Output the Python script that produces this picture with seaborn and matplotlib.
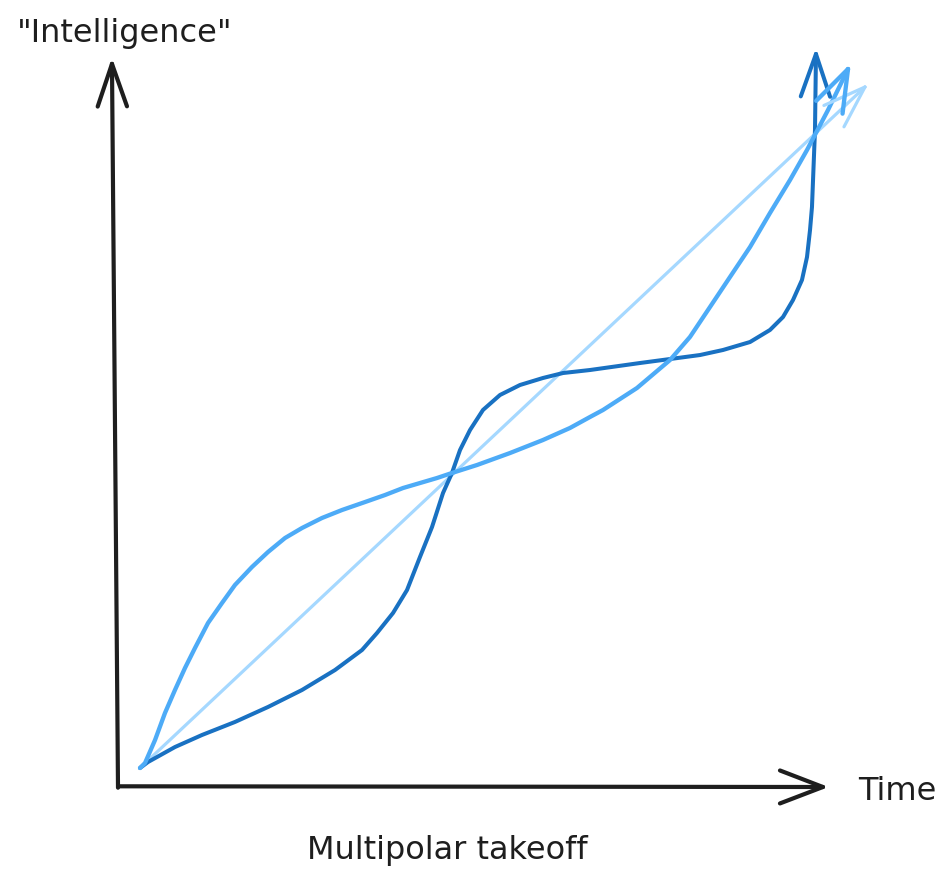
import numpy as np
import pandas as pd
import matplotlib
matplotlib.use("Agg")
import matplotlib.pyplot as plt
import seaborn as sns

# Three takeoff trajectories (time, "intelligence"), in axis units
linear_time = [0.314, 10.671]
linear_intel = [0.271, 10.000]

smooth_time = [0.314, 0.386, 0.529, 0.671, 0.814, 0.957, 1.100, 1.286, 1.486,
               1.671, 1.914, 2.143, 2.386, 2.629, 2.914, 3.200, 3.529, 3.814,
               4.071, 4.557, 4.771, 5.129, 5.600, 6.071, 6.457, 6.743, 6.929,
               7.414, 7.886, 8.171, 8.457, 8.743, 9.029, 9.314, 9.600, 9.843,
               10.143, 10.429]
smooth_intel = [0.271, 0.343, 0.671, 1.057, 1.386, 1.700, 1.986, 2.343, 2.629,
                2.886, 3.143, 3.357, 3.557, 3.700, 3.843, 3.957, 4.071, 4.171,
                4.271, 4.414, 4.486, 4.600, 4.771, 4.957, 5.129, 5.286, 5.386,
                5.700, 6.100, 6.429, 6.857, 7.286, 7.714, 8.200, 8.671, 9.100,
                9.671, 10.257]

steep_time = [0.314, 0.429, 0.814, 1.200, 1.671, 2.143, 2.629, 3.100, 3.486,
              3.700, 3.929, 4.129, 4.314, 4.486, 4.643, 4.771, 4.886, 5.029,
              5.214, 5.457, 5.743, 6.071, 6.357, 6.743, 7.457, 7.886, 8.314,
              8.643, 9.029, 9.314, 9.500, 9.643, 9.771, 9.843, 9.886, 9.914,
              9.929, 9.957, 9.971]
steep_intel = [0.271, 0.357, 0.571, 0.743, 0.929, 1.143, 1.386, 1.671, 1.957,
               2.200, 2.486, 2.814, 3.286, 3.714, 4.200, 4.486, 4.814, 5.100,
               5.386, 5.600, 5.743, 5.843, 5.914, 5.957, 6.057, 6.114, 6.171,
               6.243, 6.357, 6.529, 6.714, 6.957, 7.243, 7.571, 7.957, 8.286,
               8.671, 9.386, 10.471]

axis_time_max = 10.07
axis_intel_max = 10.33

x_label = "Time"
y_label = '"Intelligence"'
title = "Multipolar takeoff"

ink = "#1e1e1e"
light_blue = "#a5d8ff"
mid_blue = "#4dabf7"
dark_blue = "#1971c2"

sns.set_theme(style="white")
plt.rcParams["font.family"] = ["DejaVu Sans"]

fig = plt.figure(figsize=(9.46, 8.71), dpi=100)
ax = fig.add_axes([0, 0, 1, 1])
ax.set_xlim(-118 / 70, 828 / 70)
ax.set_ylim(-84 / 70, 787 / 70)
ax.set_axis_off()


def arrow_head(ax, tip, prev, color, lw, length=45, spread=20):
    """Open arrowhead at `tip`, pointing away from `prev` (sizes in pixels)."""
    to_px = ax.transData.transform
    to_data = ax.transData.inverted().transform
    t = np.asarray(to_px(tip))
    p = np.asarray(to_px(prev))
    back = (p - t) / np.linalg.norm(p - t)
    for sign in (1, -1):
        a = np.deg2rad(sign * spread)
        rot = np.array([[np.cos(a), -np.sin(a)], [np.sin(a), np.cos(a)]])
        end = t + rot @ back * length
        seg = to_data(np.vstack([t, end]))
        ax.plot(seg[:, 0], seg[:, 1], color=color, lw=lw,
                solid_capstyle="round", zorder=5)


# Axes drawn as arrows
ax.plot([0, axis_time_max], [0.01, 0], color=ink, lw=3.0, solid_capstyle="round")
ax.plot([0, -0.086], [-0.01, axis_intel_max], color=ink, lw=3.0, solid_capstyle="round")
arrow_head(ax, (axis_time_max, 0), (0, 0.01), ink, 3.0, length=46, spread=21)
arrow_head(ax, (-0.086, axis_intel_max), (0, -0.01), ink, 3.0, length=45, spread=19)

series = [
    ("linear", linear_time, linear_intel, light_blue, 2.3),
    ("steep", steep_time, steep_intel, dark_blue, 2.9),
    ("smooth", smooth_time, smooth_intel, mid_blue, 3.1),
]
for name, tx, iy, color, lw in series:
    df = pd.DataFrame({"time": tx, "intelligence": iy})
    sns.lineplot(data=df, x="time", y="intelligence", sort=False,
                 estimator=None, color=color, lw=lw, ax=ax,
                 solid_capstyle="round", solid_joinstyle="round")
    arrow_head(ax, (tx[-1], iy[-1]), (tx[-2], iy[-2]), color, lw,
               length=45, spread=19)

ax.set_axis_off()
ax.text(0.10, 10.77, y_label, ha="center", va="center", fontsize=23, color=ink)
ax.text(10.57, -0.06, x_label, ha="left", va="center", fontsize=23, color=ink)
ax.text(4.70, -0.90, title, ha="center", va="center", fontsize=23, color=ink)

fig.savefig("out.png", dpi=100, facecolor="white")
